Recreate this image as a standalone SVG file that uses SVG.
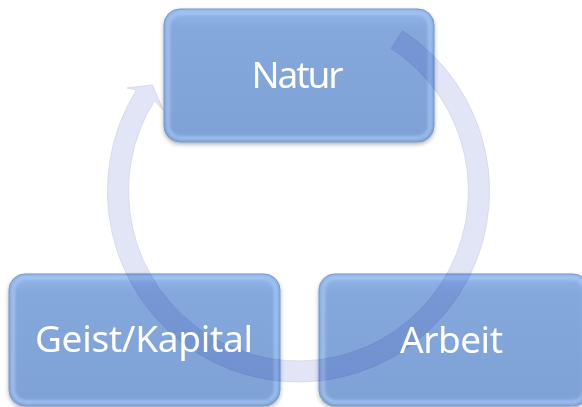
<svg xmlns="http://www.w3.org/2000/svg" width="582" height="407" viewBox="0 0 582 407">
  <defs>
    <linearGradient id="boxGrad" x1="0" y1="0" x2="0" y2="1">
      <stop offset="0" stop-color="#92b5ea"/>
      <stop offset="0.15" stop-color="#85a8dc"/>
      <stop offset="1" stop-color="#7ea1d6"/>
    </linearGradient>
    <filter id="shadow" x="-10%" y="-10%" width="120%" height="130%">
      <feGaussianBlur in="SourceAlpha" stdDeviation="2"/>
      <feOffset dx="0" dy="2" result="b"/>
      <feComponentTransfer><feFuncA type="linear" slope="0.3"/></feComponentTransfer>
      <feMerge><feMergeNode/><feMergeNode in="SourceGraphic"/></feMerge>
    </filter>
    <filter id="soft"><feGaussianBlur stdDeviation="1.5"/></filter>
    <style>
      .box { fill: url(#boxGrad); stroke: #7393c4; stroke-width: 1; }
      .glow { fill: none; stroke: #aacbf8; stroke-width: 4; opacity: 0.7; }
      .label { font-family: "Noto Sans", "Open Sans", sans-serif; font-size: 37px; fill: #ffffff; text-anchor: middle; }
      .ring { fill: #e2e5f6; stroke: #d0d4ec; stroke-width: 0.8; mix-blend-mode: multiply; }
    </style>
  </defs>
  <rect width="582" height="407" fill="#ffffff"/>
  <g id="node-natur" filter="url(#shadow)">
    <rect class="box" x="164" y="9" width="270" height="133" rx="16"/>
    <rect class="glow" x="168" y="13" width="262" height="125" rx="13" filter="url(#soft)"/>
  </g>
  <g id="node-geist" filter="url(#shadow)">
    <rect class="box" x="9" y="274" width="271" height="132" rx="16"/>
    <rect class="glow" x="13" y="278" width="263" height="124" rx="13" filter="url(#soft)"/>
  </g>
  <g id="node-arbeit" filter="url(#shadow)">
    <rect class="box" x="319" y="274" width="270" height="132" rx="16"/>
    <rect class="glow" x="323" y="278" width="262" height="124" rx="13" filter="url(#soft)"/>
  </g>
  <g id="connectors">
    <path class="ring" d="M402.53,30.81 A191,191 0 1 1 136.52,89.79 L127.07,87.99 L152.47,84.9 L163.07,109.62 L154.33,100.91 A170,170 0 1 0 391.09,48.43 Z"/>
  </g>
  <g id="labels">
    <text class="label" x="297.5" y="88" textLength="92">Natur</text>
    <text class="label" x="144" y="352" textLength="218">Geist/Kapital</text>
    <text class="label" x="451.5" y="353" textLength="103">Arbeit</text>
  </g>
</svg>
